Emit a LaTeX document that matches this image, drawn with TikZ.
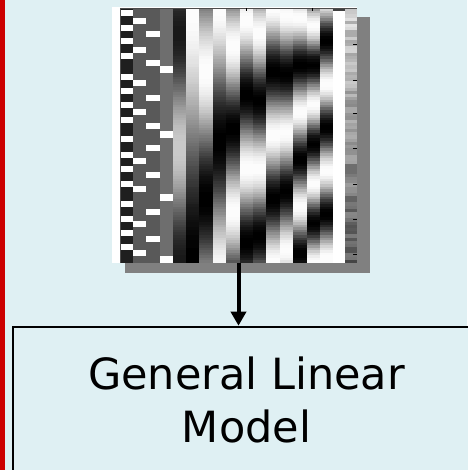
\documentclass[tikz,border=0pt]{standalone}
\usepackage{fontspec}
\setmainfont{DejaVu Sans}
\usetikzlibrary{arrows.meta}
\definecolor{paleblue}{RGB}{223, 240, 243}
\definecolor{crimson}{RGB}{204, 0, 0}
\definecolor{dropgray}{RGB}{128, 128, 128}

\begin{document}
\begin{tikzpicture}[x=1pt,y=-1pt]
            \fill[paleblue]                        (0.00, 0.00)   rectangle (467.00, 470.00);
            \useasboundingbox                      (0.00, 0.00)   rectangle (467.00, 470.00);
            \fill[crimson]                         (0.00, 0.00)   rectangle (5.00, 470.00);
            % design matrix
            \fill[dropgray]                        (125.00, 17.00) rectangle (370.00, 273.00);
            \fill[white]                           (112.00, 7.00)  rectangle (357.00, 263.00);
            \fill[black!88]                        (121.00, 8.00)  rectangle (133.00, 263.00);
            \fill[black!65]                        (133.00, 8.00)  rectangle (160.00, 263.00);
            \fill[black!57]                        (160.00, 8.00)  rectangle (173.00, 263.00);
            \foreach \y in {10,25,38,53,74,88,102,117,136,152,166,181,201,216,230,244}
                \fill[white] (121.00,\y) rectangle (133.00,\y+6);
            \foreach \y in {18,47,80,109,158,186,221,250}
                \fill[white] (133.00,\y) rectangle (146.00,\y+6);
            \foreach \y in {31,60,95,123,145,172,209,236}
                \fill[white] (146.00,\y) rectangle (160.00,\y+6);
            \foreach \y in {66,131,194,256}
                \fill[white] (160.00,\y) rectangle (173.00,\y+7);
            % smooth regressors
            \foreach \x/\c/\a/\tz/\p in {173/.45/.35/.55/.9, 186/.5/.5/0/2, 199/.5/.5/.25/1,
                                        213/.5/.5/0/1.05, 226/.5/.5/.15/.65, 240/.5/.5/.05/.58,
                                        253/.5/.5/.1/.53, 266/.5/.5/0/.5, 280/.5/.5/.03/.46,
                                        293/.5/.5/.04/.37, 307/.5/.5/.07/.31, 320/.5/.5/.3/.34}
                \foreach \r in {0,...,99}{
                    \pgfmathsetmacro\t{(\r+0.5)/100}
                    \pgfmathtruncatemacro\g{max(0,min(100,100*(\c+\a*cos(360*(\t-\tz)/\p))))}
                    \fill[white!\g!black] (\x,8+\r*2.55) rectangle (\x+13.6,8+\r*2.55+2.9);
                }
            \fill[white]                           (333.00, 8.00)  rectangle (345.00, 263.00);
            \pgfmathsetseed{12}
            \foreach \r in {0,...,79}{
                \pgfmathsetmacro\t{(\r+0.5)/80}
                \pgfmathtruncatemacro\g{max(0,min(100,100*(0.82-0.45*\t+0.22*(rnd-0.5))))}
                \fill[white!\g!black] (345,8+\r*3.1875) rectangle (357,8+\r*3.1875+3.5);
            }
            \fill[black!75]                        (333.00, 8.00)  rectangle (345.00, 11.00);
            \draw[black!70, line width=0.8pt]      (120.40, 263.00) |- (357.00, 8.40);
            \foreach \y in {44,80,113,148,184,219,254}
                \draw[line width=0.8pt] (353.00,\y) -- (357.00,\y);
            \foreach \x in {246,312}
                \draw[line width=0.8pt] (\x,8.00) -- (\x,11.00);
            \node[inner sep=0pt, minimum width=237, minimum height=255] (design) at (238.50, 135.50) {};
            % model box
            \node[draw, line width=2.6pt, fill=paleblue, inner sep=0pt,
                  minimum width=467, minimum height=153] (glm) at (246.50, 403.50) {};
            \node[align=center, font=\fontsize{43}{53}\selectfont] (glmlabel) at (glm.center) [yshift=3.5pt] {General Linear\\Model};
            \draw[line width=4pt, -{Triangle[width=15pt,length=14pt]}] (design.south) -- (design.south |- glm.north);
        \end{tikzpicture}
\end{document}
